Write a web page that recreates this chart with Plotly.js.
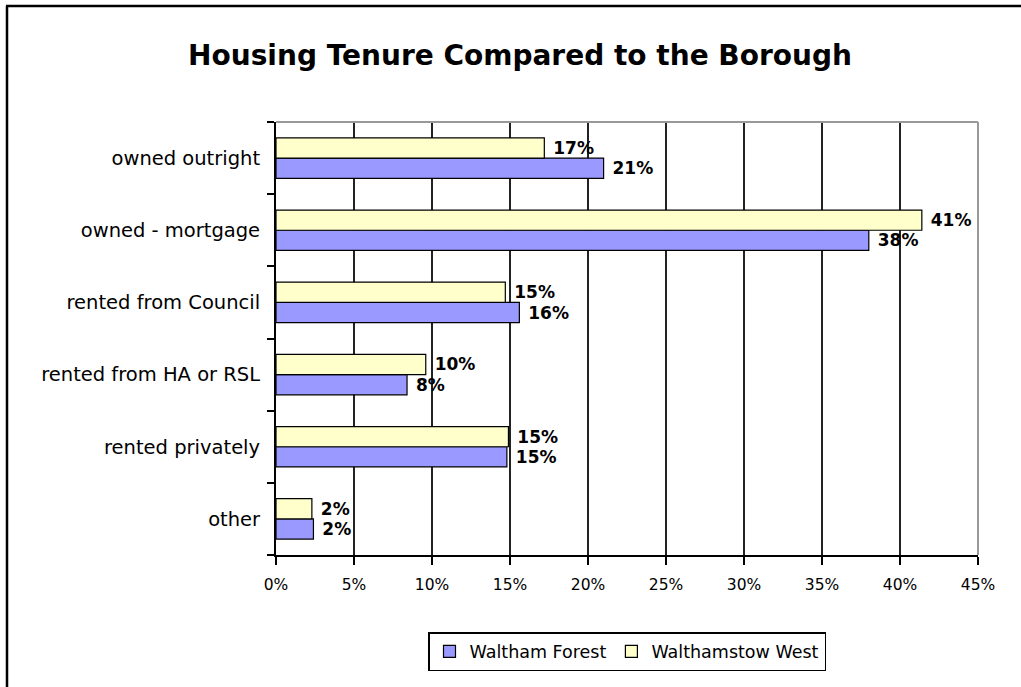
<!DOCTYPE html>
<html>
<head>
<meta charset="utf-8">
<script src="https://cdn.plot.ly/plotly-3.0.1.min.js"></script>
<style>
html,body{margin:0;padding:0;background:#fff;}
#chart{width:1021px;height:687px;}
</style>
</head>
<body>
<div id="chart"></div>
<script>
// Categories (top to bottom as shown)
var categories = ['owned outright', 'owned - mortgage', 'rented from Council', 'rented from HA or RSL', 'rented privately', 'other'];
// Series values (fractions)
var walthamForest = [0.210, 0.380, 0.156, 0.084, 0.148, 0.024];
var walthamstowWest = [0.172, 0.414, 0.147, 0.096, 0.149, 0.023];
// X tick values / labels
var xTickVals = [0, 0.05, 0.10, 0.15, 0.20, 0.25, 0.30, 0.35, 0.40, 0.45];
var xTickText = ['0%', '5%', '10%', '15%', '20%', '25%', '30%', '35%', '40%', '45%'];
var seriesNames = ['Waltham Forest', 'Walthamstow West'];

var FONT = '"DejaVu Sans", Verdana, sans-serif';

var traces = [
  {
    type: 'bar', orientation: 'h', name: seriesNames[0],
    y: categories, x: walthamForest,
    marker: {color: '#9999FF', line: {color: '#000000', width: 1.2}},
    texttemplate: '\u00a0%{x:.0%}', textposition: 'outside', constraintext: 'none', cliponaxis: false,
    textfont: {family: FONT, size: 17, color: '#000', weight: 'bold'},
    hoverinfo: 'x+y'
  },
  {
    type: 'bar', orientation: 'h', name: seriesNames[1],
    y: categories, x: walthamstowWest,
    marker: {color: '#FFFFCC', line: {color: '#000000', width: 1.2}},
    texttemplate: '\u00a0%{x:.0%}', textposition: 'outside', constraintext: 'none', cliponaxis: false,
    textfont: {family: FONT, size: 17, color: '#000', weight: 'bold'},
    hoverinfo: 'x+y'
  }
];

// plot area in pixels: x 276..978, y 122..555
var L = 276, R = 978, T = 122, B = 555, W = 1021, H = 687;
var pw = R - L, ph = B - T;
function px(x){ return (x - L) / pw; }
function py(y){ return (B - y) / ph; }

var layout = {
  width: W, height: H,
  margin: {l: L, r: W - R, t: T, b: H - B, pad: 0},
  paper_bgcolor: '#ffffff', plot_bgcolor: '#ffffff',
  font: {family: FONT, size: 16, color: '#000'},
  title: {
    text: 'Housing Tenure Compared to the Borough',
    font: {family: FONT, size: 28, color: '#000', weight: 'bold'},
    x: 520 / W, xref: 'container', xanchor: 'center',
    y: 1 - 55 / H, yref: 'container', yanchor: 'middle'
  },
  barmode: 'group', bargap: 0.44, bargroupgap: 0,
  showlegend: true,
  legend: {
    orientation: 'h', x: 0.5, xanchor: 'center', y: py(632), yanchor: 'top',
    bordercolor: '#000', borderwidth: 1.5, bgcolor: '#fff',
    font: {family: FONT, size: 17.5, color: '#000'}, traceorder: 'normal'
  },
  xaxis: {
    range: [0, 0.45], tickvals: xTickVals, ticktext: xTickText,
    showgrid: true, gridcolor: '#222', gridwidth: 2,
    showline: true, linecolor: '#000', linewidth: 2,
    ticks: 'outside', ticklen: 8, tickwidth: 2, tickcolor: '#000',
    ticklabelstandoff: 6, zeroline: false, fixedrange: true,
    tickfont: {family: FONT, size: 15.5, color: '#000'}
  },
  yaxis: {
    type: 'category', categoryorder: 'array', categoryarray: categories.slice().reverse(),
    showgrid: false, showline: true, linecolor: '#000', linewidth: 2,
    ticks: 'outside', tickson: 'boundaries', ticklen: 7, tickwidth: 2, tickcolor: '#000',
    ticklabelstandoff: 10, zeroline: false, fixedrange: true,
    tickfont: {family: FONT, size: 19.5, color: '#000'}
  },
  shapes: [
    // plot area top & right borders (grey)
    {type: 'line', xref: 'paper', yref: 'paper', x0: 0, x1: 1, y0: 1, y1: 1, line: {color: '#999', width: 2}},
    {type: 'line', xref: 'paper', yref: 'paper', x0: 1, x1: 1, y0: 0, y1: 1, line: {color: '#999', width: 2}},
    // outer chart frame (left & top)
    {type: 'line', xref: 'paper', yref: 'paper', x0: px(7), x1: px(7), y0: py(720), y1: py(6), line: {color: '#000', width: 2.5}},
    {type: 'line', xref: 'paper', yref: 'paper', x0: px(6), x1: px(1040), y0: py(6), y1: py(6), line: {color: '#000', width: 2.5}}
  ]
};

Plotly.newPlot('chart', traces, layout, {displayModeBar: false, staticPlot: true});
</script>
</body>
</html>
